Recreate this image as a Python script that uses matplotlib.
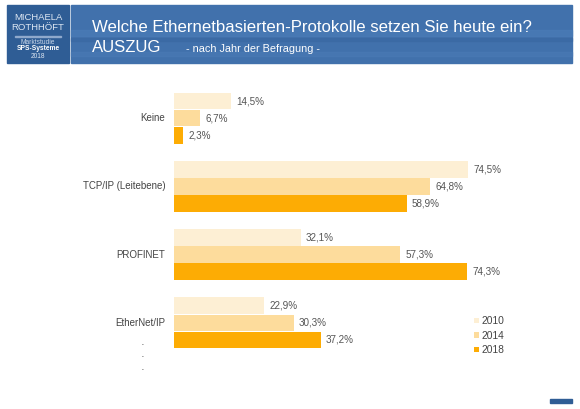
import matplotlib
matplotlib.use("Agg")
import matplotlib.pyplot as plt
from matplotlib.patches import Rectangle
import numpy as np

plt.rcParams['font.family'] = ['Liberation Sans', 'DejaVu Sans']

categories = ["Keine", "TCP/IP (Leitebene)", "PROFINET", "EtherNet/IP"]
years = ["2010", "2014", "2018"]
v2010 = [14.5, 74.5, 32.1, 22.9]
v2014 = [6.7, 64.8, 57.3, 30.3]
v2018 = [2.3, 58.9, 74.3, 37.2]
colors = ["#FDEFD4", "#FDDC9C", "#FDAC04"]

W, H = 580, 409
fig = plt.figure(figsize=(W / 100, H / 100), dpi=100)
fig.patch.set_facecolor("white")

def fx(px): return px / W
def fy(py): return 1 - py / H

# header band
fig.patches.append(Rectangle((fx(7), fy(63)), fx(62), (58) / H, transform=fig.transFigure,
                             color="#2F5D95", zorder=0))
fig.patches.append(Rectangle((fx(71), fy(63)), fx(501), (58) / H, transform=fig.transFigure,
                             color="#4171AC", zorder=0))
for yy, hh, c in [(30, 6, "#4C7DB8"), (38, 3, "#3A68A2"), (52, 4, "#4A7AB5")]:
    fig.patches.append(Rectangle((fx(71), fy(yy + hh)), fx(501), hh / H, transform=fig.transFigure,
                                 color=c, zorder=0, alpha=0.6))
fig.patches.append(Rectangle((fx(15), fy(36.5)), fx(46), 0.7 / H, transform=fig.transFigure,
                             color="#8FA9CC", zorder=1))

fig.text(fx(38), fy(17), "MICHAELA", color="#DCE6F2", fontsize=6.8, ha="center", va="center")
fig.text(fx(38), fy(27), "ROTHHÖFT", color="#DCE6F2", fontsize=6.8, ha="center", va="center")
fig.text(fx(38), fy(42), "Marktstudie", color="#C7D5E8", fontsize=4.8, ha="center", va="center")
fig.text(fx(38), fy(49), "SPS-Systeme", color="white", fontsize=4.8, ha="center", va="center",
         fontweight="bold")
fig.text(fx(38), fy(56.5), "2018", color="#DCE6F2", fontsize=4.8, ha="center", va="center")

fig.text(fx(92), fy(27), "Welche Ethernetbasierten-Protokolle setzen Sie heute ein?",
         color="white", fontsize=12.1, ha="left", va="center")
fig.text(fx(92), fy(48), "AUSZUG", color="white", fontsize=12.1, ha="left", va="center")
fig.text(fx(186), fy(49), "- nach Jahr der Befragung -", color="white", fontsize=7.8,
         ha="left", va="center")

# bar axes
x0, x1 = 174, 174 + 395
top, bot = 84, 357
ax = fig.add_axes([fx(x0), fy(bot), (x1 - x0) / W, (bot - top) / H])
y = np.arange(len(categories))
h = 0.245
bars = []
for i, (vals, c, yr) in enumerate(zip([v2010, v2014, v2018], colors, years)):
    pos = y + (i - 1) * 0.25
    b = ax.barh(pos, vals, height=h, color=c, label=yr)
    bars.append(b)
    for p, v in zip(pos, vals):
        ax.text(v + 1.3, p, f"{v:.1f}%".replace(".", ","), va="center", ha="left",
                fontsize=7.1, color="#555555")
ax.set_xlim(0, 100)
ax.set_ylim(3.5, -0.5)
ax.axis("off")

for cat, yy in zip(categories, y):
    ax.text(-2.2, yy, cat, ha="right", va="center", fontsize=7.0, color="#444444")

for py in [345, 357, 370]:
    fig.text(fx(143), fy(py), "·", ha="center", va="center", fontsize=8, color="#444444")

leg = fig.legend(handles=bars, labels=years, loc="upper left",
                 bbox_to_anchor=(fx(469), fy(311)), frameon=False, fontsize=7.4,
                 handlelength=0.45, handleheight=0.45, handletextpad=0.3, labelspacing=0.45,
                 borderpad=0, labelcolor="#444444")

fig.patches.append(Rectangle((fx(550), fy(403)), fx(22), 4 / H, transform=fig.transFigure,
                             color="#2F5D95", zorder=0))

fig.savefig("out.png", dpi=100)
